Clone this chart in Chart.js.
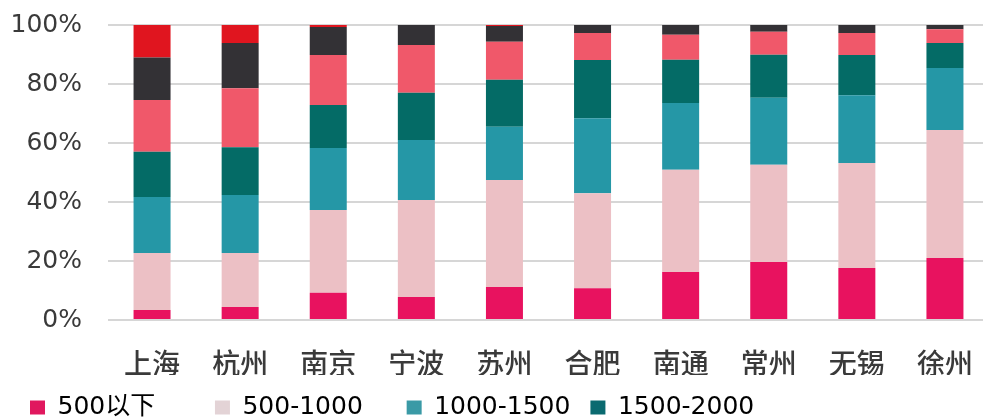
<!DOCTYPE html>
<html>
<head>
<meta charset="utf-8">
<script src="https://cdn.jsdelivr.net/npm/chart.js@4.4.1/dist/chart.umd.min.js"></script>
<style>
    html, body { margin: 0; padding: 0; background: #fff; overflow: hidden; }
    #wrap { position: relative; width: 992px; height: 418px; }
</style>
</head>
<body>
<div id="wrap"><canvas id="priceChart"></canvas></div>
<script>
const cities = ["上海", "杭州", "南京", "宁波", "苏州", "合肥", "南通", "常州", "无锡", "徐州"];
const seriesNames = ["500以下", "500-1000", "1000-1500", "1500-2000", "2000-2500", "2500-3000", "3000以上"];
const yTicks = [0, 20, 40, 60, 80, 100];

// share of each band per city, %
const below500   = [3.4, 4.4, 9.2, 7.8, 11.2, 10.8, 16.3, 19.7, 17.6, 21.0];
const r500_1000  = [19.3, 18.3, 28.1, 32.9, 36.3, 32.2, 34.6, 32.9, 35.6, 43.4];
const r1000_1500 = [19.0, 19.7, 21.0, 20.3, 18.0, 25.4, 22.7, 22.7, 23.0, 21.0];
const r1500_2000 = [15.3, 16.2, 14.6, 16.0, 15.9, 19.7, 14.6, 14.6, 13.6, 8.5];
const r2000_2500 = [17.6, 20.0, 16.9, 16.2, 12.9, 9.2, 8.5, 7.8, 7.5, 4.7];
const r2500_3000 = [14.4, 15.3, 9.5, 6.8, 5.4, 2.7, 3.3, 2.3, 2.7, 1.4];
const above3000  = [11.0, 6.1, 0.7, 0.0, 0.3, 0.0, 0.0, 0.0, 0.0, 0.0];

const colors = ["#e8125f", "#ecc0c5", "#2597a6", "#046b66", "#f0586a", "#333135", "#e0151f"];
const legendColors = ["#e0185e", "#e3d3d6", "#3a9aa6", "#0a6a70"];
const values = [below500, r500_1000, r1000_1500, r1500_2000, r2000_2500, r2500_3000, above3000];

const datasets = seriesNames.map((name, i) => ({
    label: name,
    data: values[i],
    backgroundColor: colors[i],
    borderWidth: 0,
    categoryPercentage: 1,
    barPercentage: 0.42
}));

// legend columns in the picture are not evenly spaced
const legendPad = ["     ", "   ", "", ""];

// keep the legend strip short, like the picture
const legendHeight = {
    id: "legendHeight",
    beforeInit(chart) {
        const fit = chart.legend.fit;
        chart.legend.fit = function () {
            fit.call(this);
            this.height = 43;
        };
    }
};

new Chart(document.getElementById("priceChart"), {
    type: "bar",
    data: { labels: cities, datasets: datasets },
    plugins: [legendHeight],
    options: {
        responsive: true,
        maintainAspectRatio: false,
        animation: false,
        layout: { padding: { left: 10, right: 3, top: 0, bottom: 0 } },
        plugins: {
            tooltip: { enabled: false },
            legend: {
                position: "bottom",
                align: "start",
                labels: {
                    boxWidth: 15,
                    boxHeight: 14,
                    padding: 20,
                    color: "#3a3a3a",
                    font: { family: "'DejaVu Sans', 'Noto Sans CJK SC', sans-serif", size: 25 },
                    generateLabels: (chart) => chart.data.datasets.slice(0, 4).map((ds, i) => ({
                        text: ds.label + legendPad[i],
                        fillStyle: legendColors[i],
                        strokeStyle: legendColors[i],
                        lineWidth: 0,
                        datasetIndex: i
                    }))
                }
            }
        },
        scales: {
            x: {
                stacked: true,
                grid: { display: false },
                border: { display: false },
                afterFit: (axis) => {
                    axis.height = 55;
                    axis.paddingLeft = 0;
                    axis.paddingRight = 0;
                },
                ticks: {
                    color: "#3a3a3a",
                    padding: 19,
                    font: { family: "'Noto Sans CJK SC', sans-serif", size: 28, weight: 500 }
                }
            },
            y: {
                stacked: true,
                min: 0,
                max: 100,
                afterBuildTicks: (axis) => { axis.ticks = yTicks.map(v => ({ value: v })); },
                afterFit: (axis) => {
                    axis.width = 98;
                    axis.paddingTop = 25;
                    axis.paddingBottom = 0;
                },
                grid: { color: "#d6d6d6", lineWidth: 2, drawTicks: false },
                border: { display: false },
                ticks: {
                    color: "#3a3a3a",
                    padding: 26,
                    font: { family: "'DejaVu Sans', sans-serif", size: 25 },
                    callback: (v) => v + "%"
                }
            }
        }
    }
});
</script>
</body>
</html>
